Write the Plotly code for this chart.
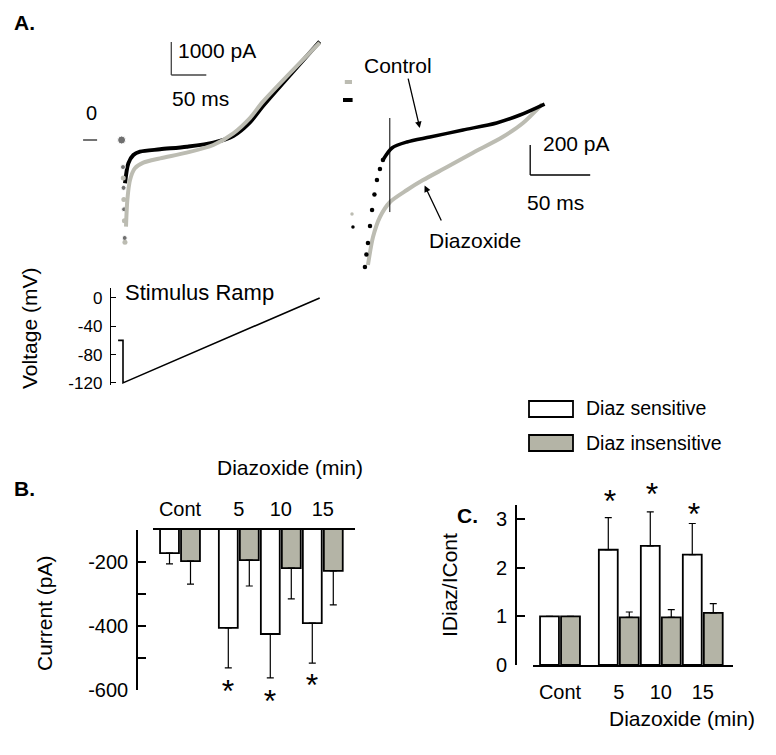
import plotly.graph_objects as go

W, H = 776, 755
def PX(p): return p / W
def PY(p): return 1 - p / H

FONT = "Arial, Liberation Sans, sans-serif"
BLACK = "#000000"
GREY_BAR = "#b4b4a6"
GREY_TRACE = "#bcbcb2"

# ---------------- Panel A (left): whole ramp current, t (ms), I (pA)
a_hold_t = [-2]
a_hold_i = [0]
a_ctrl_sparse_t = [0, 0.8, 1.6, 2.4]
a_ctrl_sparse_i = [-820, -1450, -2100, -2970]
a_diaz_sparse_t = [0.4, 1.2, 2.0, 2.8]
a_diaz_sparse_i = [-1150, -1800, -2450, -3100]
a_ctrl_t = [2.9, 7.6, 14.8, 24.3, 52.9, 91, 129, 157.6, 181, 200, 281]
a_ctrl_i = [-1313, -707, -455, -354, -283, -202, -81, 121, 525, 1030, 2980]
a_diaz_t = [4.3, 6.2, 10, 17, 29, 52.9, 91, 129, 157.6, 181, 200, 281]
a_diaz_i = [-2626, -1818, -1212, -859, -687, -556, -384, -152, 202, 657, 1162, 2950]

# ---------------- Panel A (right): expanded early part
r_ctrl_hold_t = [0, 8]
r_ctrl_hold_i = [0, 0]
r_diaz_hold_t = [1.5, 7.5]
r_diaz_hold_i = [120, 120]
r_ctrl_dot_t = [8.3]
r_ctrl_dot_i = [-847]
r_diaz_dot_t = [7.5]
r_diaz_dot_i = [-760]
r_ctrl_steep_t = [18.3, 19.5, 20.8, 22.5, 24.2, 26.2, 28.3, 30.8, 33.3]
r_ctrl_steep_i = [-1114, -1030, -954, -840, -734, -630, -534, -460, -400]
r_ctrl_t = [33.3, 40.8, 53.3, 72.5, 100, 128, 147.5, 168]
r_ctrl_i = [-400, -320, -280, -247, -200, -153, -100, -27]
r_diaz_t = [20.8, 25, 30.8, 39.2, 53.3, 66.7, 86.7, 108, 133, 150, 166]
r_diaz_i = [-1100, -914, -780, -680, -600, -534, -447, -353, -247, -153, -27]

# ---------------- Stimulus ramp, t (ms), V (mV)
ramp_t = [-7, 0, 0, 281]
ramp_v = [-60, -60, -120, 0]
ramp_ticks = [0, -40, -80, -120]
ramp_ticktext = ["0", "-40", "-80", "-120"]

# ---------------- Panels B and C
groups = ["Cont", "5", "10", "15"]
group_x = [0, 1.4, 2.4, 3.4]

b_sens = [-172, -406, -425, -391]
b_sens_err = [34, 125, 137, 125]
b_ins = [-197, -194, -219, -228]
b_ins_err = [72, 81, 96, 106]
b_star_x = [1.14, 2.14, 3.14]
b_star_y = [-584, -616, -566]
b_ticks = [-100, -200, -300, -400, -500, -600]
b_ticktext = ["", "-200", "", "-400", "", "-600"]

c_sens = [1.0, 2.37, 2.45, 2.27]
c_sens_err = [0, 0.66, 0.70, 0.64]
c_ins = [1.0, 0.98, 0.98, 1.07]
c_ins_err = [0, 0.11, 0.16, 0.19]
c_star_x = [1.19, 2.19, 3.19]
c_star_y = [3.49, 3.64, 3.23]
c_ticks = [0, 1, 2, 3]

# axis geometry (pixels in the 776x755 page)
B_TOP, B_BOT = 530, 690          # y4 spans -100 .. -600
C_TOP, C_BOT = 505, 665          # y5 spans 0 .. 3.29
B_RANGE = [-600, -100]
C_RANGE = [0, 3.29]
STAR_DY = 9                      # asterisk glyph sits high in its text box
# star layers: same scale, taller domain so the asterisks are not culled
b_scale = (B_RANGE[1] - B_RANGE[0]) / (B_BOT - B_TOP)
B_STAR_BOT = 730
b_star_range = [B_RANGE[1] - (B_STAR_BOT - B_TOP) * b_scale, B_RANGE[1]]
c_scale = (C_RANGE[1] - C_RANGE[0]) / (C_BOT - C_TOP)
C_STAR_TOP = 465
c_star_range = [0, (C_BOT - C_STAR_TOP) * c_scale]

fig = go.Figure()

# ---- A left traces
fig.add_trace(go.Scatter(x=a_ctrl_t, y=a_ctrl_i, mode="lines", line=dict(color=BLACK, width=4, shape="spline", smoothing=0.8),
                         xaxis="x", yaxis="y", showlegend=False))
fig.add_trace(go.Scatter(x=a_ctrl_sparse_t + a_hold_t, y=a_ctrl_sparse_i + a_hold_i, mode="markers",
                         marker=dict(color="#333333", size=[5, 5, 5, 5, 8]), xaxis="x", yaxis="y", showlegend=False))
fig.add_trace(go.Scatter(x=a_diaz_t, y=a_diaz_i, mode="lines", line=dict(color=GREY_TRACE, width=4, shape="spline", smoothing=0.8),
                         xaxis="x", yaxis="y", showlegend=False))
fig.add_trace(go.Scatter(x=a_diaz_sparse_t, y=a_diaz_sparse_i, mode="markers",
                         marker=dict(color=GREY_TRACE, size=5), xaxis="x", yaxis="y", showlegend=False))

# ---- A right traces
fig.add_trace(go.Scatter(x=r_diaz_t, y=r_diaz_i, mode="lines", line=dict(color=GREY_TRACE, width=4, shape="spline", smoothing=0.8),
                         xaxis="x2", yaxis="y2", showlegend=False))
fig.add_trace(go.Scatter(x=r_ctrl_t, y=r_ctrl_i, mode="lines", line=dict(color=BLACK, width=3.5, shape="spline", smoothing=0.8),
                         xaxis="x2", yaxis="y2", showlegend=False))
fig.add_trace(go.Scatter(x=r_ctrl_steep_t, y=r_ctrl_steep_i, mode="markers", marker=dict(color=BLACK, size=4.5),
                         xaxis="x2", yaxis="y2", showlegend=False))
fig.add_trace(go.Scatter(x=r_diaz_hold_t, y=r_diaz_hold_i, mode="lines", line=dict(color=GREY_TRACE, width=4),
                         xaxis="x2", yaxis="y2", showlegend=False))
fig.add_trace(go.Scatter(x=r_ctrl_hold_t, y=r_ctrl_hold_i, mode="lines", line=dict(color=BLACK, width=4),
                         xaxis="x2", yaxis="y2", showlegend=False))
fig.add_trace(go.Scatter(x=r_diaz_dot_t, y=r_diaz_dot_i, mode="markers", marker=dict(color=GREY_TRACE, size=3.5),
                         xaxis="x2", yaxis="y2", showlegend=False))
fig.add_trace(go.Scatter(x=r_ctrl_dot_t, y=r_ctrl_dot_i, mode="markers", marker=dict(color=BLACK, size=3.5),
                         xaxis="x2", yaxis="y2", showlegend=False))

# ---- Ramp
fig.add_trace(go.Scatter(x=ramp_t, y=ramp_v, mode="lines", line=dict(color=BLACK, width=1.6),
                         xaxis="x3", yaxis="y3", showlegend=False))

# ---- B bars
err_b = dict(type="data", symmetric=False, color=BLACK, thickness=1.2, width=3.5)
fig.add_trace(go.Bar(x=group_x, y=b_sens, marker=dict(color="white", line=dict(color=BLACK, width=1.8)),
                     error_y=dict(err_b, array=[0] * 4, arrayminus=b_sens_err), xaxis="x4", yaxis="y4", showlegend=False))
fig.add_trace(go.Bar(x=group_x, y=b_ins, marker=dict(color=GREY_BAR, line=dict(color=BLACK, width=1.8)),
                     error_y=dict(err_b, array=[0] * 4, arrayminus=b_ins_err), xaxis="x4", yaxis="y4", showlegend=False))
fig.add_trace(go.Scatter(x=b_star_x, y=b_star_y, mode="text", text=["*"] * 3, textposition="middle center",
                         textfont=dict(size=32, color=BLACK, family=FONT),
                         xaxis="x6", yaxis="y6", showlegend=False))

# ---- C bars
fig.add_trace(go.Bar(x=group_x, y=c_sens, marker=dict(color="white", line=dict(color=BLACK, width=1.8)),
                     error_y=dict(err_b, array=c_sens_err, arrayminus=[0] * 4), xaxis="x5", yaxis="y5", showlegend=False))
fig.add_trace(go.Bar(x=group_x, y=c_ins, marker=dict(color=GREY_BAR, line=dict(color=BLACK, width=1.8)),
                     error_y=dict(err_b, array=c_ins_err, arrayminus=[0] * 4), xaxis="x5", yaxis="y5", showlegend=False))
fig.add_trace(go.Scatter(x=c_star_x, y=c_star_y, mode="text", text=["*"] * 3, textposition="middle center",
                         textfont=dict(size=32, color=BLACK, family=FONT),
                         xaxis="x7", yaxis="y7", showlegend=False))

hidden = dict(visible=False, zeroline=False, showgrid=False, automargin=False)
tickfont = dict(family=FONT, size=20, color=BLACK)

fig.update_layout(
    width=W, height=H, autosize=False, showlegend=False,
    margin=dict(l=0, r=0, t=0, b=0, pad=0, autoexpand=False),
    paper_bgcolor="white", plot_bgcolor="rgba(0,0,0,0)",
    font=dict(family=FONT, size=20, color=BLACK),
    barmode="group", bargap=0.0, bargroupgap=0.1,
    xaxis=dict(hidden, domain=[PX(81), PX(326)], range=[-60, 290], anchor="y"),
    yaxis=dict(hidden, domain=[PY(255.5), PY(24.5)], range=[-3500, 3500], anchor="x"),
    xaxis2=dict(hidden, domain=[PX(337), PX(601)], range=[-5, 215], anchor="y2"),
    yaxis2=dict(hidden, domain=[PY(280), PY(55)], range=[-1200, 300], anchor="x2"),
    xaxis3=dict(hidden, domain=[PX(81), PX(326)], range=[-60, 290], anchor="y3"),
    yaxis3=dict(domain=[PY(385), PY(288)], range=[-123, 14], anchor="free", position=PX(110), automargin=False,
                showline=True, linecolor=BLACK, linewidth=1.4, ticks="inside", ticklen=5, tickwidth=1.4,
                tickcolor=BLACK, tickvals=ramp_ticks, ticktext=ramp_ticktext, ticklabelstandoff=4,
                tickfont=dict(family=FONT, size=17, color=BLACK), showgrid=False, zeroline=False),
    xaxis4=dict(domain=[PX(153), PX(355)], range=[-0.643, 4.167], anchor="y4", side="top", automargin=False,
                showline=True, linecolor=BLACK, linewidth=1.6, ticks="", tickvals=group_x, ticktext=groups,
                tickfont=tickfont, ticklabelstandoff=4, showgrid=False, zeroline=False),
    yaxis4=dict(domain=[PY(B_BOT), PY(B_TOP)], range=B_RANGE, anchor="free", position=PX(137), automargin=False,
                showline=True, linecolor=BLACK, linewidth=1.6, ticks="inside", ticklen=8, tickwidth=1.6,
                tickcolor=BLACK, tickvals=b_ticks, ticktext=b_ticktext, tickfont=tickfont, ticklabelstandoff=4,
                showgrid=False, zeroline=False),
    xaxis5=dict(domain=[PX(533), PX(733)], range=[-0.643, 4.12], anchor="y5", automargin=False,
                showline=True, linecolor=BLACK, linewidth=1.6, ticks="", tickvals=group_x, ticktext=groups,
                tickfont=tickfont, ticklabelstandoff=8, showgrid=False, zeroline=False),
    yaxis5=dict(domain=[PY(C_BOT), PY(C_TOP)], range=C_RANGE, anchor="free", position=PX(516), automargin=False,
                showline=True, linecolor=BLACK, linewidth=1.6, ticks="inside", ticklen=8, tickwidth=1.6,
                tickcolor=BLACK, tickvals=c_ticks, tickfont=tickfont, ticklabelstandoff=4,
                showgrid=False, zeroline=False),
    xaxis6=dict(hidden, domain=[PX(153), PX(355)], range=[-0.643, 4.167], anchor="y6"),
    yaxis6=dict(hidden, domain=[PY(B_STAR_BOT + STAR_DY), PY(B_TOP + STAR_DY)], range=b_star_range, anchor="x6"),
    xaxis7=dict(hidden, domain=[PX(533), PX(733)], range=[-0.643, 4.12], anchor="y7"),
    yaxis7=dict(hidden, domain=[PY(C_BOT + STAR_DY), PY(C_STAR_TOP + STAR_DY)], range=c_star_range, anchor="x7"),
)

shapes = []
# A left: zero dash and scale bar (1000 pA, 50 ms)
shapes.append(dict(type="line", xref="x", yref="y", x0=-57, x1=-37, y0=0, y1=0, line=dict(color="#444444", width=1.6)))
shapes.append(dict(type="line", xref="x", yref="y", x0=69, x1=69, y0=1970, y1=2970, line=dict(color="#444444", width=1.3)))
shapes.append(dict(type="line", xref="x", yref="y", x0=69, x1=119, y0=1970, y1=1970, line=dict(color="#444444", width=1.3)))
# A right: marker line and scale bar (200 pA, 50 ms)
shapes.append(dict(type="line", xref="x2", yref="y2", x0=39, x1=39, y0=-120, y1=-747, line=dict(color=BLACK, width=1)))
shapes.append(dict(type="line", xref="x2", yref="y2", x0=156, x1=156, y0=-300, y1=-500, line=dict(color=BLACK, width=1.3)))
shapes.append(dict(type="line", xref="x2", yref="y2", x0=156, x1=206, y0=-500, y1=-500, line=dict(color=BLACK, width=1.3)))
# Legend swatches
shapes.append(dict(type="rect", xref="paper", yref="paper", x0=PX(529), x1=PX(573), y0=PY(417), y1=PY(401),
                   fillcolor="white", line=dict(color=BLACK, width=1.8)))
shapes.append(dict(type="rect", xref="paper", yref="paper", x0=PX(529), x1=PX(573), y0=PY(451), y1=PY(435),
                   fillcolor=GREY_BAR, line=dict(color=BLACK, width=1.8)))
fig.update_layout(shapes=shapes)

def ptext(text, x, y, xanchor="center", size=20, bold=False, angle=0):
    t = "<b>%s</b>" % text if bold else text
    return dict(text=t, x=PX(x), y=PY(y), xref="paper", yref="paper", xanchor=xanchor, yanchor="middle",
                showarrow=False, textangle=angle, font=dict(family=FONT, size=size, color=BLACK))

ann = [
    ptext("A.", 12, 22, "left", 21, True),
    ptext("B.", 12, 488, "left", 21, True),
    ptext("C.", 455, 515, "left", 21, True),
    ptext("0", 91, 113, "center", 20),
    ptext("1000 pA", 176, 50, "left", 21),
    ptext("50 ms", 170, 98, "left", 21),
    ptext("200 pA", 541, 143, "left", 21),
    ptext("50 ms", 525, 203, "left", 21),
    ptext("Control", 398, 65, "center", 21),
    ptext("Diazoxide", 475, 240, "center", 21),
    ptext("Stimulus Ramp", 123, 292, "left", 22),
    ptext("Voltage (mV)", 30, 329, "center", 21, angle=-90),
    ptext("Current (pA)", 44, 613, "center", 21, angle=-90),
    ptext("Diazoxide (min)", 290, 467, "center", 21),
    ptext("Diazoxide (min)", 682, 718, "center", 21),
    ptext("IDiaz/ICont", 449, 585, "center", 21, angle=-90),
    ptext("Diaz sensitive", 584, 408, "left", 19.5),
    ptext("Diaz insensitive", 584, 443, "left", 19.5),
    # arrows
    dict(text="", x=64, y=-187, xref="x2", yref="y2", ax=54, ay=153, axref="x2", ayref="y2",
         showarrow=True, arrowhead=2, arrowsize=1, arrowwidth=1.3, arrowcolor=BLACK),
    dict(text="", x=68, y=-570, xref="x2", yref="y2", ax=82.5, ay=-813, axref="x2", ayref="y2",
         showarrow=True, arrowhead=2, arrowsize=1, arrowwidth=1.3, arrowcolor=BLACK),
]
fig.update_layout(annotations=ann)

fig.write_html(
    "out.html",
    config={"displayModeBar": False},
    post_script="document.documentElement.style.overflow='hidden';"
                "document.body.style.margin='0';document.body.style.overflow='hidden';",
)
